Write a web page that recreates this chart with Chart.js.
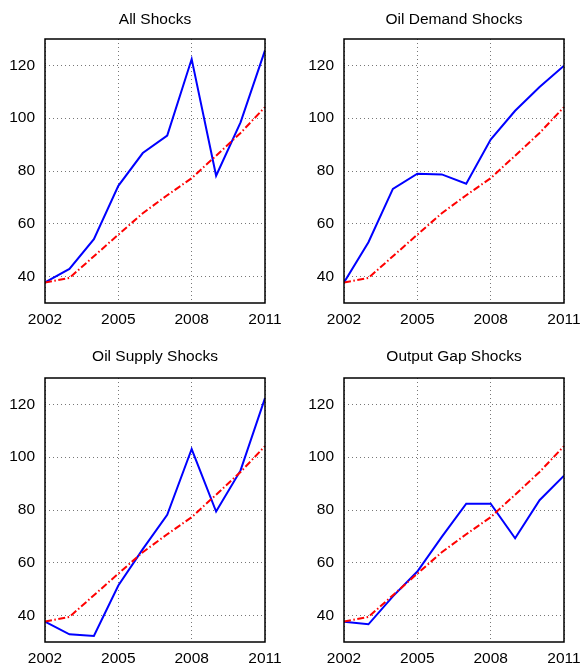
<!DOCTYPE html>
<html>
<head>
<meta charset="utf-8">
<script src="https://cdn.jsdelivr.net/npm/chart.js@4/dist/chart.umd.min.js"></script>
<style>
  html, body { margin: 0; padding: 0; background: #ffffff; }
  #wrap { position: relative; width: 583px; height: 663px; overflow: hidden; background: #fff; }
  canvas { position: absolute; }
</style>
</head>
<body>
<div id="wrap">
  <canvas id="c0" width="290" height="330" style="left:0px;top:0px"></canvas>
  <canvas id="c1" width="293" height="330" style="left:290px;top:0px"></canvas>
  <canvas id="c2" width="290" height="333" style="left:0px;top:330px"></canvas>
  <canvas id="c3" width="293" height="333" style="left:290px;top:330px"></canvas>
</div>
<script>
// ---- data ----
const years = [2002, 2003, 2004, 2005, 2006, 2007, 2008, 2009, 2010, 2011];
const trend = [37.8, 39.5, 47.7, 55.9, 64.0, 70.8, 77.3, 85.8, 94.4, 104.2];
const allShocks = [37.8, 42.9, 54.2, 74.4, 86.8, 93.4, 122.4, 78.2, 98.4, 125.7];
const oilDemandShocks = [37.8, 53.0, 73.2, 79.0, 78.7, 75.2, 91.9, 102.8, 111.8, 119.9];
const oilSupplyShocks = [37.7, 32.9, 32.3, 51.4, 65.2, 78.2, 103.1, 79.4, 95.0, 122.4];
const outputGapShocks = [37.7, 36.7, 47.3, 56.7, 69.8, 82.4, 82.4, 69.3, 83.7, 93.0];
const titles = ['All Shocks', 'Oil Demand Shocks', 'Oil Supply Shocks', 'Output Gap Shocks'];
const xTicks = [2002, 2005, 2008, 2011];
const yTicks = [40, 60, 80, 100, 120];
const yMin = 30, yMax = 130;

// ---- layout (positions in each canvas) ----
const panels = [
  { id: 'c0', values: allShocks,       w: 290, h: 330, L: 45, R: 265, T: 39, B: 303, titleY: 20 },
  { id: 'c1', values: oilDemandShocks, w: 293, h: 330, L: 54, R: 274, T: 39, B: 303, titleY: 20 },
  { id: 'c2', values: oilSupplyShocks, w: 290, h: 333, L: 45, R: 265, T: 48, B: 312, titleY: 26.5 },
  { id: 'c3', values: outputGapShocks, w: 293, h: 333, L: 54, R: 274, T: 48, B: 312, titleY: 26.5 }
];

const FONT = "'Liberation Sans', Arial, Helvetica, sans-serif";
const TITLE_SIZE = 15.5, TICK_SIZE = 15.5;

const boxPlugin = {
  id: 'box',
  afterDatasetsDraw(chart) {
    const a = chart.chartArea, ctx = chart.ctx;
    ctx.save();
    ctx.strokeStyle = '#000';
    ctx.lineWidth = 1.5;
    ctx.strokeRect(a.left, a.top, a.right - a.left, a.bottom - a.top);
    ctx.restore();
  }
};

panels.forEach((p, i) => {
  const padTop = p.titleY - TITLE_SIZE * 1.2 / 2;
  const padBottom = p.T - padTop - TITLE_SIZE * 1.2;
  new Chart(document.getElementById(p.id), {
    type: 'line',
    data: {
      datasets: [
        {
          data: years.map((x, k) => ({ x, y: trend[k] })),
          borderColor: '#ff0000',
          borderWidth: 2,
          borderDash: [7, 2.5, 1.5, 2.5],
          pointRadius: 0,
          tension: 0,
          fill: false
        },
        {
          data: years.map((x, k) => ({ x, y: p.values[k] })),
          borderColor: '#0000ff',
          borderWidth: 2,
          pointRadius: 0,
          tension: 0,
          fill: false
        }
      ]
    },
    options: {
      responsive: false,
      animation: false,
      devicePixelRatio: 1,
      layout: { padding: { left: 0, top: 0, right: p.w - p.R, bottom: 0 } },
      plugins: {
        legend: { display: false },
        tooltip: { enabled: false },
        title: {
          display: true,
          fullSize: false,
          text: titles[i],
          color: '#000',
          font: { family: FONT, size: TITLE_SIZE, weight: 'normal', lineHeight: 1.2 },
          padding: { top: padTop, bottom: padBottom }
        }
      },
      scales: {
        x: {
          type: 'linear',
          min: years[0],
          max: years[years.length - 1],
          afterBuildTicks: (s) => { s.ticks = xTicks.map(v => ({ value: v })); },
          afterFit: (s) => { s.height = p.h - p.B; s.paddingLeft = 0; s.paddingRight = 0; },
          ticks: {
            color: '#000',
            font: { family: FONT, size: TICK_SIZE },
            padding: 7,
            maxRotation: 0,
            autoSkip: false,
            callback: (v) => String(v)
          },
          grid: { color: '#777', lineWidth: 1, drawTicks: false },
          border: { display: false, dash: [1, 3] }
        },
        y: {
          type: 'linear',
          min: yMin,
          max: yMax,
          afterBuildTicks: (s) => { s.ticks = yTicks.map(v => ({ value: v })); },
          afterFit: (s) => { s.width = p.L; s.paddingTop = 0; s.paddingBottom = 0; },
          ticks: {
            color: '#000',
            font: { family: FONT, size: TICK_SIZE },
            padding: 10,
            autoSkip: false,
            callback: (v) => String(v)
          },
          grid: { color: '#777', lineWidth: 1, drawTicks: false },
          border: { display: false, dash: [1, 3] }
        }
      }
    },
    plugins: [boxPlugin]
  });
});
</script>
</body>
</html>
